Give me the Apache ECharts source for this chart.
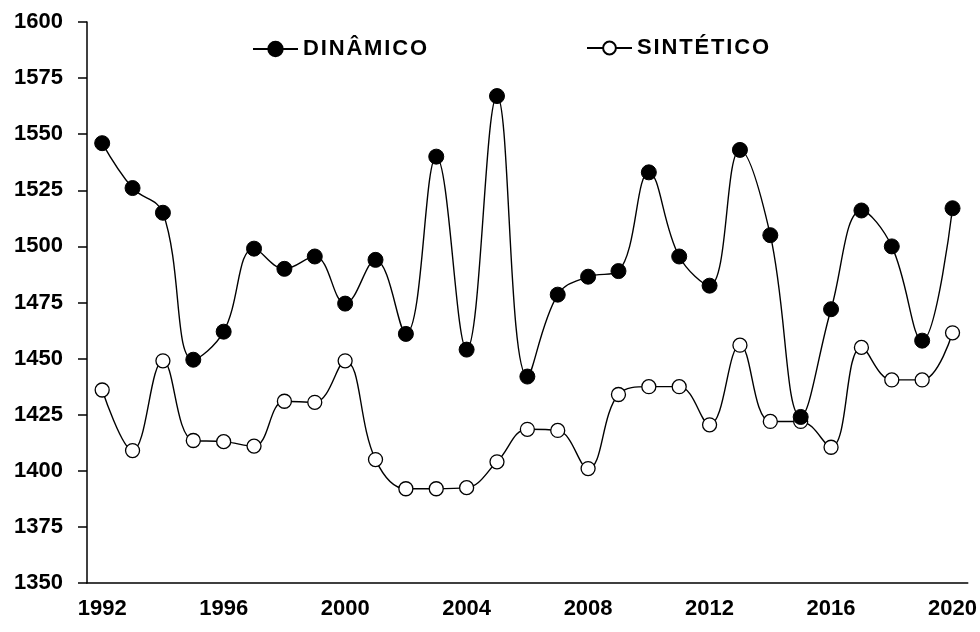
<!DOCTYPE html>
<html>
<head>
<meta charset="utf-8">
<script src="https://cdn.jsdelivr.net/npm/echarts@6/dist/echarts.min.js"></script>
<style>
html,body{margin:0;padding:0;background:#fff;}
#chart{width:980px;height:632px;}
</style>
</head>
<body>
<div id="chart"></div>
<script>
var years = ['1992','1993','1994','1995','1996','1997','1998','1999','2000','2001','2002','2003','2004','2005','2006','2007','2008','2009','2010','2011','2012','2013','2014','2015','2016','2017','2018','2019','2020'];
var dinamico = [1546,1526,1515,1449.5,1462,1499,1490,1495.5,1474.5,1494,1461,1540,1454,1567,1442,1478.5,1486.5,1489,1533,1495.5,1482.5,1543,1505,1424,1472,1516,1500,1458,1517];
var sintetico = [1436,1409,1449,1413.5,1413,1411,1431,1430.5,1449,1405,1392,1392,1392.5,1404,1418.5,1418,1401,1434,1437.5,1437.5,1420.5,1456,1422,1422,1410.5,1455,1440.5,1440.5,1461.5];
var seriesNames = ['DINÂMICO','SINTÉTICO'];
var yMin = 1350, yMax = 1600, yStep = 25;

var FONT = '"Liberation Sans", Arial, sans-serif';
var chart = echarts.init(document.getElementById('chart'), null, {renderer:'canvas'});
var legendText = {color:'#000', fontFamily:FONT, fontWeight:'bold', fontSize:22};
var spaced = function(name){ return name.split('').join('\u200A'); };
chart.setOption({
  backgroundColor:'#fff',
  animation:false,
  grid:{left:87, right:12, top:22, bottom:49, containLabel:false},
  legend:[
    {data:[seriesNames[0]], left:247, top:33, itemWidth:45, itemHeight:18, itemGap:8, textStyle:legendText, formatter:spaced},
    {data:[seriesNames[1]], left:581, top:32, itemWidth:45, itemHeight:16, itemGap:8, textStyle:legendText, formatter:spaced}
  ],
  xAxis:{
    type:'category', data:years, boundaryGap:true,
    axisLine:{lineStyle:{color:'#000', width:1.5}},
    axisTick:{interval:0, length:8, lineStyle:{color:'#000', width:1.5}},
    axisLabel:{interval:3, margin:15, color:'#000', fontFamily:FONT, fontWeight:'bold', fontSize:22},
    splitLine:{show:false}
  },
  yAxis:{
    type:'value', min:yMin, max:yMax, interval:yStep,
    axisLine:{show:true, lineStyle:{color:'#000', width:1.5}},
    axisTick:{show:true, length:9, lineStyle:{color:'#000', width:1.5}},
    axisLabel:{margin:24, color:'#000', fontFamily:FONT, fontWeight:'bold', fontSize:22,
      formatter:function(v){return String(v);}},
    splitLine:{show:false}
  },
  series:[
    {name:seriesNames[0], type:'line', data:dinamico, smooth:0.4, symbol:'circle', symbolSize:15,
     lineStyle:{color:'#000', width:1.4}, itemStyle:{color:'#000', borderColor:'#000', borderWidth:1}, z:3},
    {name:seriesNames[1], type:'line', data:sintetico, smooth:0.4, symbol:'circle', symbolSize:14,
     lineStyle:{color:'#000', width:1.4}, itemStyle:{color:'#fff', borderColor:'#000', borderWidth:1.3}, z:2}
  ]
});
</script>
</body>
</html>
